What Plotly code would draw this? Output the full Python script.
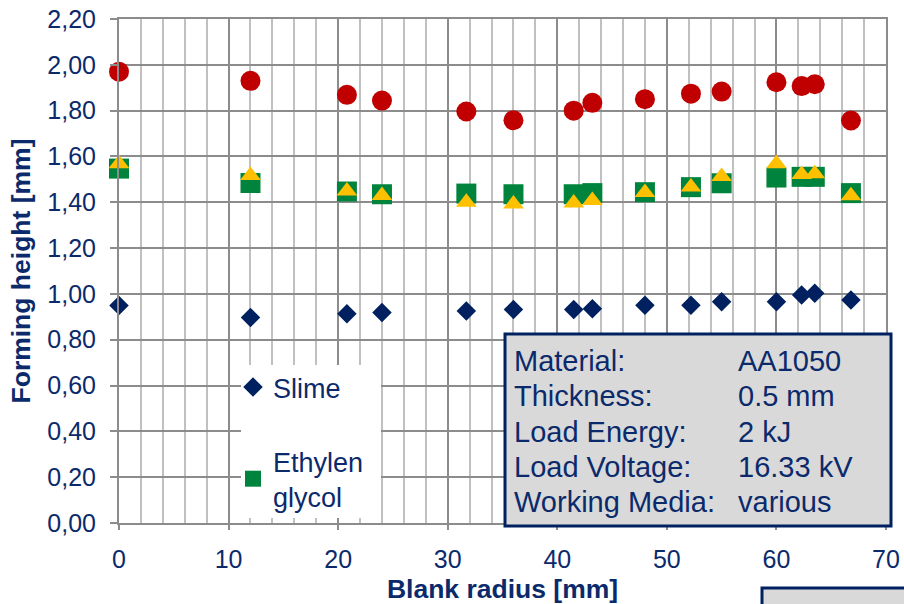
import plotly.graph_objects as go

# Blank radius positions [mm]
blank_radius = [0, 12, 20.8, 24, 31.7, 36, 41.5, 43.2, 48, 52.2, 55, 60, 62.3, 63.5, 66.8]

# Forming height [mm] per working medium
slime = [0.949, 0.897, 0.913, 0.919, 0.925, 0.932, 0.932, 0.935, 0.951, 0.951, 0.966, 0.966, 0.995, 1.003, 0.973]
ethylen_glycol = [1.547, 1.484, 1.447, 1.435, 1.438, 1.435, 1.435, 1.440, 1.444, 1.466, 1.483, 1.508, 1.511, 1.511, 1.440]
medium_circle = [1.970, 1.930, 1.869, 1.844, 1.796, 1.758, 1.800, 1.834, 1.850, 1.874, 1.883, 1.924, 1.907, 1.915, 1.757]
medium_triangle = [1.568, 1.517, 1.449, 1.430, 1.400, 1.393, 1.397, 1.408, 1.443, 1.467, 1.513, 1.568, 1.521, 1.524, 1.428]

# Process parameter box
info_labels = ["Material:", "Thickness:", "Load Energy:", "Load Voltage:", "Working Media:"]
info_values = ["AA1050", "0.5 mm", "2 kJ", "16.33 kV", "various"]

NAVY = "#0b2a6b"
MARK_NAVY = "#002060"
RED = "#c00000"
GREEN = "#00843d"
YELLOW = "#ffc000"
BOX_FILL = "#d9d9d9"
GRID = "#8c8c8c"
MINOR = "#c0c0c0"
FONT = "Liberation Sans, Arial, sans-serif"

W, H = 904, 604
ML, MR, MT, MB = 119, 18, 19, 81
PW, PH = W - ML - MR, H - MT - MB


def px(x):
    return (x - ML) / PW


def py(y):
    return (H - MB - y) / PH


fig = go.Figure()

fig.add_trace(go.Scatter(
    x=blank_radius, y=slime, mode="markers", name="Slime",
    legendgroup="a",
    marker=dict(symbol="diamond", size=15, color=MARK_NAVY),
    cliponaxis=False,
))
fig.add_trace(go.Scatter(
    x=blank_radius, y=ethylen_glycol, mode="markers", name="Ethylen<br>glycol",
    legendgroup="b",
    marker=dict(symbol="square", size=20, color=GREEN),
    cliponaxis=False,
))
fig.add_trace(go.Scatter(
    x=blank_radius, y=medium_circle, mode="markers", showlegend=False,
    marker=dict(symbol="circle", size=20, color=RED),
    cliponaxis=False,
))
fig.add_trace(go.Scatter(
    x=blank_radius, y=medium_triangle, mode="markers", showlegend=False,
    marker=dict(symbol="triangle-up", size=18, color=YELLOW),
    cliponaxis=False,
))

shapes = [
    # legend background
    dict(type="rect", xref="paper", yref="paper",
         x0=px(241), x1=px(381), y0=py(518), y1=py(365),
         fillcolor="white", line=dict(width=0), layer="above"),
    # parameter box
    dict(type="rect", xref="paper", yref="paper",
         x0=px(505), x1=px(891), y0=py(526), y1=py(334),
         fillcolor=BOX_FILL, line=dict(color=MARK_NAVY, width=3), layer="above"),
    # second box running off the lower right corner
    dict(type="rect", xref="paper", yref="paper",
         x0=px(762), x1=px(915), y0=py(615), y1=py(588),
         fillcolor=BOX_FILL, line=dict(color=MARK_NAVY, width=3), layer="above"),
]

annotations = []
row0, row_step = 361, 35.3
for i, (lab, val) in enumerate(zip(info_labels, info_values)):
    yy = py(row0 + i * row_step)
    annotations.append(dict(xref="paper", yref="paper", x=px(512), y=yy,
                            text=lab, showarrow=False, xanchor="left", yanchor="middle",
                            font=dict(family=FONT, size=29, color=NAVY)))
    annotations.append(dict(xref="paper", yref="paper", x=px(736), y=yy,
                            text=val, showarrow=False, xanchor="left", yanchor="middle",
                            font=dict(family=FONT, size=29, color=NAVY)))

fig.update_layout(
    width=W, height=H,
    margin=dict(l=ML, r=MR, t=MT, b=MB, autoexpand=False),
    paper_bgcolor="white", plot_bgcolor="white",
    separators=",.",
    font=dict(family=FONT, color=NAVY),
    shapes=shapes,
    annotations=annotations,
    legend=dict(
        x=px(233), y=py(363), xanchor="left", yanchor="top",
        bgcolor="rgba(0,0,0,0)", borderwidth=0,
        font=dict(family=FONT, size=27, color=NAVY),
        traceorder="grouped", tracegroupgap=36,
        itemsizing="trace",
    ),
    xaxis=dict(
        range=[0, 70], dtick=10, tick0=0, automargin=False,
        showgrid=True, gridcolor=GRID, gridwidth=2,
        minor=dict(dtick=2, showgrid=True, gridcolor=MINOR, gridwidth=2, ticks=""),
        showline=True, linecolor=GRID, linewidth=2, mirror=True,
        ticks="outside", ticklen=5, tickcolor=GRID, tickwidth=2,
        ticklabelstandoff=8,
        tickfont=dict(family=FONT, size=25, color=NAVY),
        zeroline=False,
        title=dict(text="<b>Blank radius [mm]</b>", standoff=10,
                   font=dict(family=FONT, size=26.5, color=NAVY)),
    ),
    yaxis=dict(
        range=[0, 2.2], dtick=0.2, tick0=0, tickformat=".2f", automargin=False,
        showgrid=True, gridcolor=GRID, gridwidth=2,
        showline=True, linecolor=GRID, linewidth=2, mirror=True,
        ticks="outside", ticklen=7, tickcolor=GRID, tickwidth=2,
        ticklabelstandoff=9,
        tickfont=dict(family=FONT, size=25, color=NAVY),
        zeroline=False,
        title=dict(text="<b>Forming height [mm]</b>", standoff=9,
                   font=dict(family=FONT, size=26.5, color=NAVY)),
    ),
    showlegend=True,
)

fig.write_html("out.html")
